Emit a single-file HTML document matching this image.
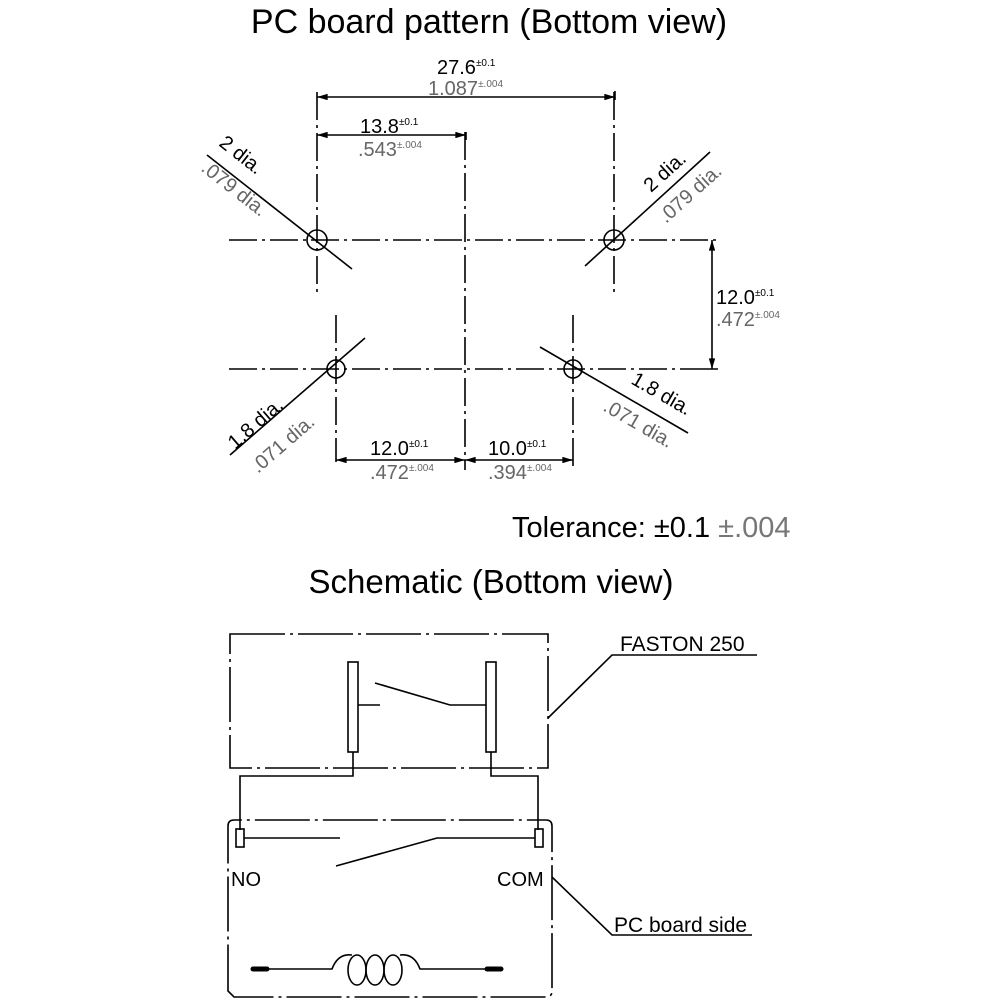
<!DOCTYPE html>
<html><head><meta charset="utf-8"><style>
body{margin:0;background:#fff}
svg{display:block}
text{font-family:"Liberation Sans",Arial,sans-serif}
.b{fill:#000}.g{fill:#666}
</style></head><body>
<svg width="1000" height="1000" viewBox="0 0 1000 1000" xmlns="http://www.w3.org/2000/svg">
<defs>
<marker id="a" viewBox="0 0 10 6" refX="10" refY="3" markerWidth="8" markerHeight="4" orient="auto-start-reverse"><path d="M0,0L10,3L0,6z" fill="#000"/></marker>
</defs>
<text x="489" y="33" font-size="34" text-anchor="middle" class="b">PC board pattern (Bottom view)</text>
<g stroke="#000" stroke-width="1.6" fill="none">
<g stroke-dasharray="28,5,3,5">
<line x1="229" y1="240" x2="716" y2="240"/>
<line x1="229" y1="369" x2="700" y2="369"/>
<line x1="465" y1="132" x2="465" y2="470"/>
<line x1="317" y1="92" x2="317" y2="295"/>
<line x1="614" y1="92" x2="614" y2="295"/>
<line x1="336" y1="315" x2="336" y2="462"/>
<line x1="573" y1="315" x2="573" y2="470"/>
</g>
<line x1="317" y1="97" x2="615" y2="97" marker-start="url(#a)" marker-end="url(#a)"/>
<line x1="615" y1="91" x2="615" y2="100"/>
<line x1="317" y1="135" x2="466" y2="135" marker-start="url(#a)" marker-end="url(#a)"/>
<line x1="466" y1="132" x2="466" y2="140"/>
<line x1="712" y1="240" x2="712" y2="369" marker-start="url(#a)" marker-end="url(#a)"/>
<line x1="700" y1="369" x2="718" y2="369"/>
<line x1="336" y1="460" x2="465" y2="460" marker-start="url(#a)" marker-end="url(#a)"/>
<line x1="465" y1="460" x2="573" y2="460" marker-start="url(#a)" marker-end="url(#a)"/>
<circle cx="317" cy="240" r="10"/>
<circle cx="614" cy="240" r="10"/>
<circle cx="336" cy="369" r="9"/>
<circle cx="573" cy="369" r="9"/>
<line x1="207" y1="155" x2="352" y2="269"/>
<line x1="585" y1="266" x2="710" y2="152"/>
<line x1="230" y1="455" x2="365" y2="338"/>
<line x1="540" y1="347" x2="688" y2="433"/>
</g>
<g font-size="20">
<text x="437" y="74" class="b">27.6<tspan font-size="10" dy="-8">±0.1</tspan></text>
<text x="428" y="95" class="g">1.087<tspan font-size="10" dy="-8">±.004</tspan></text>
<text x="360" y="133" class="b">13.8<tspan font-size="10" dy="-8">±0.1</tspan></text>
<text x="358" y="156" class="g">.543<tspan font-size="10" dy="-8">±.004</tspan></text>
<text x="716" y="304" class="b">12.0<tspan font-size="10" dy="-8">±0.1</tspan></text>
<text x="716" y="326" class="g">.472<tspan font-size="10" dy="-8">±.004</tspan></text>
<text x="370" y="455" class="b">12.0<tspan font-size="10" dy="-8">±0.1</tspan></text>
<text x="370" y="479" class="g">.472<tspan font-size="10" dy="-8">±.004</tspan></text>
<text x="488" y="455" class="b">10.0<tspan font-size="10" dy="-8">±0.1</tspan></text>
<text x="488" y="479" class="g">.394<tspan font-size="10" dy="-8">±.004</tspan></text>
<text transform="translate(218,145) rotate(38)" class="b">2 dia.</text>
<text transform="translate(200,170) rotate(38)" class="g">.079 dia.</text>
<text transform="translate(651,193) rotate(-42)" class="b">2 dia.</text>
<text transform="translate(666,224) rotate(-42)" class="g">.079 dia.</text>
<text transform="translate(235,450) rotate(-41)" class="b">1.8 dia.</text>
<text transform="translate(258,474) rotate(-41)" class="g">.071 dia.</text>
<text transform="translate(630,383) rotate(30)" class="b">1.8 dia.</text>
<text transform="translate(602,410) rotate(30)" class="g">.071 dia.</text>
</g>
<text x="512" y="537" font-size="29" class="b">Tolerance: ±0.1 <tspan fill="#777">±.004</tspan></text>
<text x="491" y="593" font-size="33" text-anchor="middle" class="b">Schematic (Bottom view)</text>
<g stroke="#000" stroke-width="1.6" fill="none">
<rect x="230" y="634" width="318" height="134" stroke-dasharray="55,5,3,5"/>
<rect x="348" y="662" width="10" height="90"/>
<rect x="486" y="662" width="10" height="90"/>
<polyline points="358,705 380,705"/>
<polyline points="375,683 450,705 486,705"/>
<polyline points="353,752 353,776 240,776 240,830"/>
<polyline points="491,752 491,776 538,776 538,830"/>
<path d="M234,997 L228,991 L228,826 Q228,820 234,820 L546,820 Q552,820 552,826 L552,991 Q552,997 546,997 Z" stroke-dasharray="55,5,3,5"/>
<rect x="236" y="829" width="8" height="18"/>
<rect x="535" y="829" width="8" height="18"/>
<line x1="244" y1="838" x2="340" y2="838"/>
<polyline points="336,866 437,838 535,838"/>
<path d="M262,969 H332 Q338,953 352,955 M400,955 Q414,953 420,969 H492"/>
<ellipse cx="357" cy="970" rx="9" ry="15"/>
<ellipse cx="375" cy="970" rx="9" ry="15"/>
<ellipse cx="393" cy="970" rx="9" ry="15"/>
<polyline points="548,718 612,655 757,655"/>
<polyline points="552,877 612,935 752,935"/>
</g>
<line x1="253" y1="969" x2="267" y2="969" stroke="#000" stroke-width="5" stroke-linecap="round"/>
<line x1="487" y1="969" x2="501" y2="969" stroke="#000" stroke-width="5" stroke-linecap="round"/>
<text x="620" y="651" font-size="21" class="b">FASTON 250</text>
<text x="614" y="932" font-size="21" class="b">PC board side</text>
<text x="231" y="886" font-size="20" class="b">NO</text>
<text x="497" y="886" font-size="20" class="b">COM</text>
</svg>
</body></html>
